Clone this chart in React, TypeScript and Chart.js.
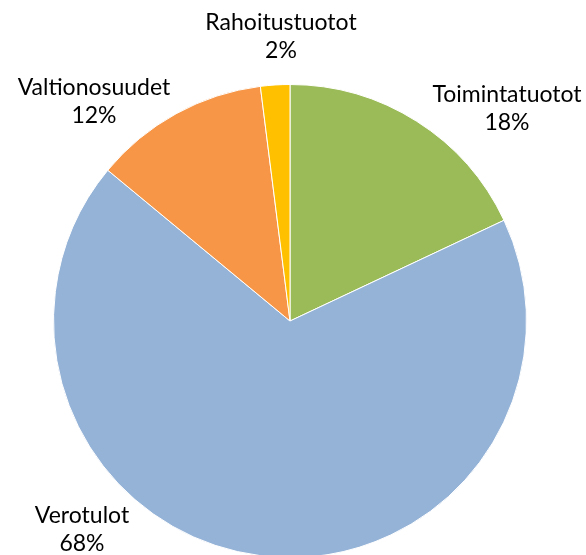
import React, { useEffect, useRef } from "react";
import { Chart, registerables } from "chart.js";

Chart.register(...registerables);

const categories = ["Toimintatuotot", "Verotulot", "Valtionosuudet", "Rahoitustuotot"];
const shares = [18, 68, 12, 2];
const percentLabels = ["18%", "68%", "12%", "2%"];
const sliceColors = ["#9BBB59", "#95B3D7", "#F79646", "#FFC000"];

// Label placement relative to the pie centre (x offset of text centre, baseline of first line)
const labelOffsets: [number, number][] = [
  [217, -219],
  [-208, 202],
  [-196, -226],
  [-9, -291],
];

const FONT = "23px Lato, 'Open Sans', sans-serif";
const LINE_GAP = 28;

const labelPlugin = {
  id: "outsideLabels",
  afterDatasetsDraw(chart: any) {
    const meta = chart.getDatasetMeta(0);
    const ctx = chart.ctx;
    ctx.save();
    ctx.font = FONT;
    ctx.fillStyle = "#000000";
    ctx.textAlign = "center";
    ctx.textBaseline = "alphabetic";
    meta.data.forEach((arc: any, i: number) => {
      const [dx, dy] = labelOffsets[i];
      const x = arc.x + dx;
      const y = arc.y + dy;
      ctx.fillText(categories[i], x, y);
      ctx.fillText(percentLabels[i], x, y + LINE_GAP);
    });
    ctx.restore();
  },
};

export default function App() {
  const ref = useRef<HTMLCanvasElement | null>(null);
  useEffect(() => {
    if (!ref.current) return;
    const chart = new Chart(ref.current, {
      type: "pie",
      data: {
        labels: categories,
        datasets: [
          {
            data: shares,
            backgroundColor: sliceColors,
            borderColor: "#ffffff",
            borderWidth: 1,
          },
        ],
      },
      options: {
        responsive: false,
        animation: false,
        layout: { padding: { left: 53, right: 59, top: 84, bottom: 2 } },
        plugins: {
          legend: { display: false },
          tooltip: { enabled: false },
        },
      },
      plugins: [labelPlugin],
    });
    return () => chart.destroy();
  }, []);
  return (
    <div style={{ position: "fixed", left: 0, top: 0, width: 586, height: 555, overflow: "hidden", background: "#fff" }}>
      <canvas ref={ref} width={586} height={560} style={{ display: "block", width: 586, height: 560 }} />
    </div>
  );
}
